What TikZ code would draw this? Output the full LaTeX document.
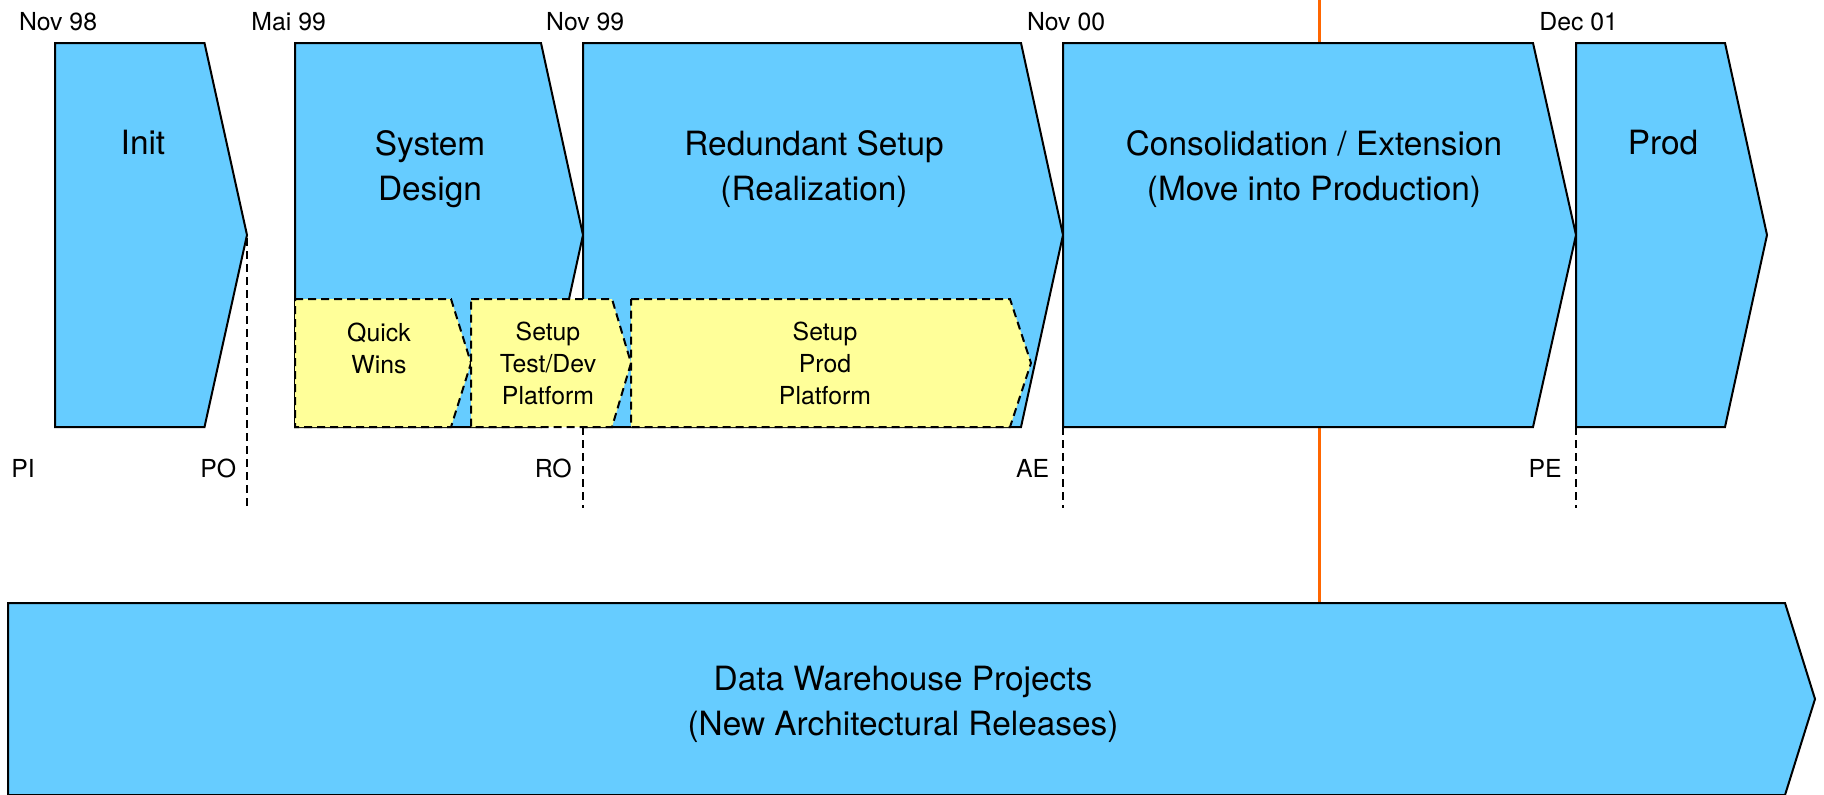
\documentclass[tikz,border=0pt]{standalone}
\usepackage{fontspec}
\setmainfont{TeX Gyre Heros}
\definecolor{phaseblue}{HTML}{66CCFF}
\definecolor{subyellow}{HTML}{FFFF99}
\definecolor{nowline}{HTML}{FF6600}
\begin{document}
\begin{tikzpicture}[x=0.5pt,y=-0.5pt,
  phase/.style={draw=black,fill=phaseblue,line width=1pt,line join=miter},
  subphase/.style={draw=black,fill=subyellow,line width=1pt,dash pattern=on 4pt off 2.5pt},
  milestone/.style={draw=black,line width=0.8pt,dash pattern=on 4pt off 2.5pt},
  bigtext/.style={inner sep=0pt,anchor=base,align=center,font=\fontsize{16.7}{22.5}\selectfont},
  smalltext/.style={inner sep=0pt,anchor=base,align=center,font=\fontsize{12.4}{15.9}\selectfont},
  datelabel/.style={inner sep=0pt,anchor=base west,font=\fontsize{12.4}{15}\selectfont},
  mslabel/.style={inner sep=0pt,anchor=base east,font=\fontsize{12.4}{15}\selectfont}]
\clip (0,0) rectangle (1824,794);
\fill[white] (0,0) rectangle (1824,794);

% today line
\coordinate (nowtop) at (1319,0);
\coordinate (nowbot) at (1319,603);
\draw[nowline,line width=1.5pt] (nowtop) -- (nowbot);

% main phases
\draw[phase] (55,43) -- (204.5,43) -- (247,235) -- (204.5,427) -- (55,427) -- cycle;
\draw[phase] (295,43) -- (541,43) -- (583,235) -- (541,427) -- (295,427) -- cycle;
\draw[phase] (583,43) -- (1021,43) -- (1063,235) -- (1021,427) -- (583,427) -- cycle;
\draw[phase] (1063,43) -- (1533,43) -- (1576,235) -- (1533,427) -- (1063,427) -- cycle;
\draw[phase] (1576,43) -- (1725,43) -- (1767,235) -- (1725,427) -- (1576,427) -- cycle;
\draw[phase] (8,603) -- (1785,603) -- (1815,699) -- (1785,795) -- (8,795) -- cycle;

% sub phases
\draw[subphase] (295,299) -- (451,299) -- (471,363) -- (451,427) -- (295,427) -- cycle;
\draw[subphase] (471,299) -- (612,299) -- (631,363) -- (612,427) -- (471,427) -- cycle;
\draw[subphase] (631,299) -- (1010,299) -- (1031,363) -- (1010,427) -- (631,427) -- cycle;

% milestone lines
\coordinate (POt) at (247,238);  \coordinate (POb) at (247,508);
\coordinate (ROt) at (583,427);  \coordinate (ROb) at (583,508);
\coordinate (AEt) at (1063,427); \coordinate (AEb) at (1063,508);
\coordinate (PEt) at (1576,427); \coordinate (PEb) at (1576,508);
\draw[milestone] (POt) -- (POb);
\draw[milestone] (ROt) -- (ROb);
\draw[milestone] (AEt) -- (AEb);
\draw[milestone] (PEt) -- (PEb);

% phase texts (base = baseline of last line)
\node[bigtext] (tinit) at (143,154) {Init};
\node[bigtext] (tsys) at (430,200) {System\\Design};
\node[bigtext] (tred) at (814,200) {Redundant Setup\\(Realization)};
\node[bigtext] (tcons) at (1314,200) {Consolidation / Extension\\(Move into Production)};
\node[bigtext] (tprod) at (1663,154) {Prod};
\node[bigtext] (tdwh) at (903,735) {Data Warehouse Projects\\(New Architectural Releases)};

\node[smalltext] (tqw) at (379,373) {Quick\\Wins};
\node[smalltext] (ttd) at (548,404.5) {Setup\\Test/Dev\\Platform};
\node[smalltext] (tpp) at (825,404.5) {Setup\\Prod\\Platform};

% dates
\node[datelabel] (d1) at (18.6,30) {Nov 98};
\node[datelabel] (d2) at (251,30) {Mai 99};
\node[datelabel] (d3) at (545.7,30) {Nov 99};
\node[datelabel] (d4) at (1026.6,30) {Nov 00};
\node[datelabel] (d5) at (1539,30) {Dec 01};

% milestone labels
\node[datelabel] (mPI) at (11,477) {PI};
\node[mslabel] (mPO) at (236.5,477) {PO};
\node[mslabel] (mRO) at (572,477) {RO};
\node[mslabel] (mAE) at (1049.5,477) {AE};
\node[mslabel] (mPE) at (1562,477) {PE};
\end{tikzpicture}
\end{document}
